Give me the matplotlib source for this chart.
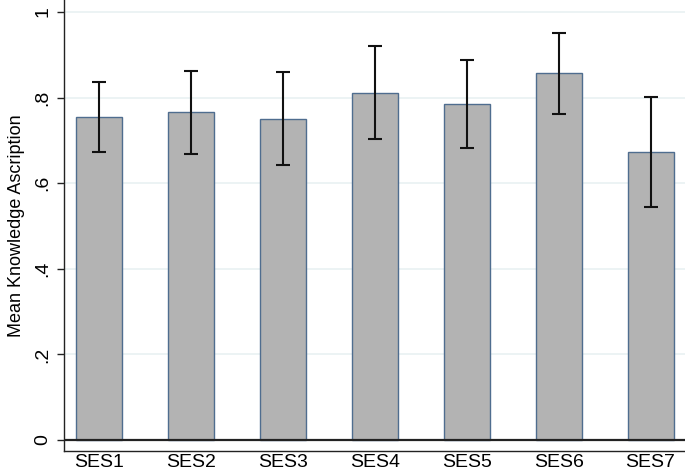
import matplotlib
matplotlib.use("Agg")
import matplotlib.pyplot as plt

# data
groups = ["SES1", "SES2", "SES3", "SES4", "SES5", "SES6", "SES7"]
means = [0.755, 0.766, 0.750, 0.811, 0.784, 0.858, 0.672]
ci_low = [0.673, 0.669, 0.642, 0.703, 0.682, 0.762, 0.544]
ci_high = [0.837, 0.863, 0.860, 0.920, 0.887, 0.951, 0.801]
yticks = [0, 0.2, 0.4, 0.6, 0.8, 1.0]
ytick_labels = ["0", ".2", ".4", ".6", ".8", "1"]

plt.rcParams["font.family"] = ["Liberation Sans", "DejaVu Sans"]

fig = plt.figure(figsize=(6.85, 4.73), dpi=100)
ax = fig.add_axes([64 / 685, 22 / 473, 1 - 64 / 685, 451 / 473])

x = list(range(len(groups)))
ax.bar(x, means, width=0.5, color="#b3b3b3", edgecolor="#4f6d8f",
       linewidth=1.0, zorder=2)

# error bars as (lower, upper) distances from the mean
yerr = [[m - lo for m, lo in zip(means, ci_low)],
        [hi - m for m, hi in zip(means, ci_high)]]
ax.errorbar(x, means, yerr=yerr, fmt="none", ecolor="#111111",
            elinewidth=1.5, capsize=5, capthick=1.5, zorder=3)

# baseline at zero
ax.axhline(0, color="#222222", linewidth=1.6, zorder=4)

ax.set_xlim(-0.38, 6.375)
ax.set_ylim(-0.0257, 1.028)

ax.set_yticks(yticks)
ax.set_yticklabels(ytick_labels, rotation=90, va="center", fontsize=14)
ax.set_xticks(x)
ax.set_xticklabels(groups, fontsize=14)
ax.tick_params(axis="y", length=5, width=1, pad=4, color="#222222")
ax.tick_params(axis="x", length=0, pad=2.5)

ax.yaxis.grid(True, color="#eaf2f3", linewidth=1.3, zorder=0)
ax.set_axisbelow(True)

for side in ["top", "right"]:
    ax.spines[side].set_visible(False)
ax.spines["left"].set_color("#222222")
ax.spines["bottom"].set_color("#222222")
ax.spines["left"].set_linewidth(1.0)
ax.spines["bottom"].set_linewidth(1.0)

ax.set_ylabel("Mean Knowledge Ascription", fontsize=13, labelpad=7)

fig.savefig("out.png", dpi=100)
